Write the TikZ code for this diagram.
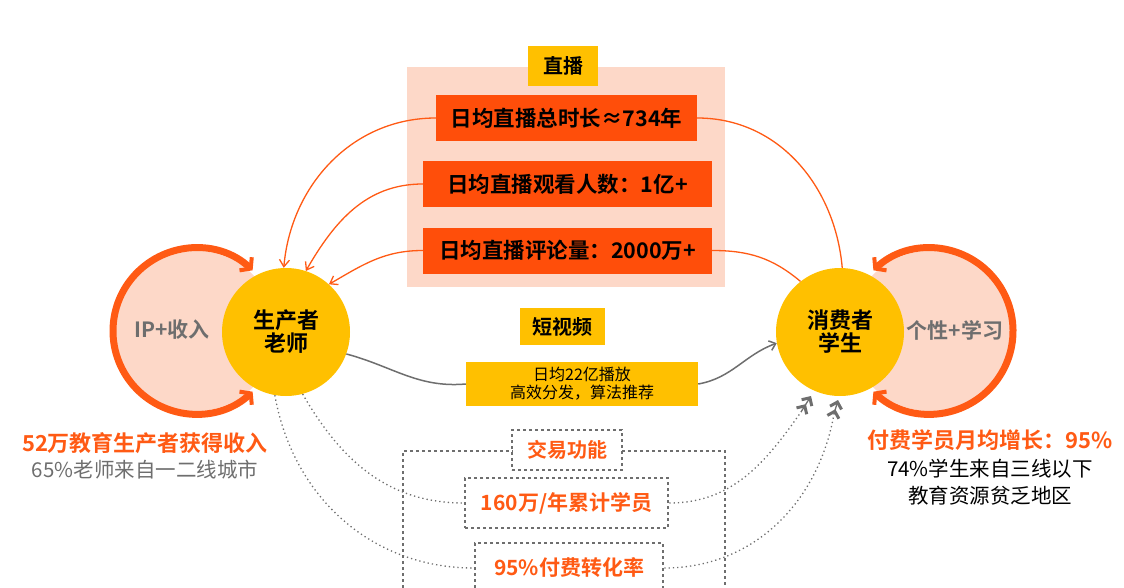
\documentclass[tikz,border=0pt]{standalone}
\usepackage{fontspec}
\setmainfont{Noto Sans CJK SC}
\newfontfamily\cjkb{Noto Sans CJK SC Bold}
\usetikzlibrary{arrows.meta}
\definecolor{org}{HTML}{FF5A14}
\definecolor{redb}{HTML}{FF4E0A}
\definecolor{yel}{HTML}{FFC000}
\definecolor{peach}{HTML}{FDD8C8}
\definecolor{gr}{HTML}{6E6E6E}
\tikzset{
 redbox/.style={fill=redb,minimum height=46pt,inner sep=0pt,font=\cjkb\fontsize{21.5}{22}\selectfont,text=black},
 yelbox/.style={fill=yel,inner sep=0pt,font=\cjkb\fontsize{20}{20}\selectfont,text=black},
 thinarr/.style={draw=org,line width=1.3pt,-{Straight Barb[length=7pt,width=10pt,line width=1.3pt]}},
 thin/.style={draw=org,line width=1.3pt},
 dotbox/.style={draw=gr,line width=2.5pt,dash pattern=on 3pt off 3pt,inner sep=0pt},
 dotl/.style={draw=gr,line width=1.3pt,dash pattern=on 1.3pt off 3pt},
 chev/.style={draw=gr,line width=1.3pt,-{Straight Barb[length=6pt,width=12pt,line width=3pt]Straight Barb[length=6pt,width=12pt,line width=3pt]}},
 ring/.style={draw=org,line width=7pt,{Straight Barb[length=7pt,width=18pt,line width=4pt]}-{Straight Barb[length=7pt,width=18pt,line width=4pt]}},
 yc/.style={circle,fill=yel,minimum size=128pt,inner sep=0pt,align=center,font=\cjkb\fontsize{22}{23}\selectfont},
 ot/.style={text=org,font=\cjkb\fontsize{20}{20}\selectfont},
}
\begin{document}
\begin{tikzpicture}[x=1pt,y=-1pt]
\useasboundingbox (0,0) rectangle (1124,588);
% rings
\fill[peach] (196,331) circle (80);
\fill[peach] (930,331) circle (80);
\draw[ring] (252.6,270.3) arc[start angle=-47,end angle=-313,radius=83];
\draw[ring] (873.4,270.3) arc[start angle=-133,end angle=133,radius=83];
% top panel
\fill[peach] (407,67) rectangle (725,287);
\node[yelbox,minimum width=70pt,minimum height=40pt] (zb) at (563,66) {直播};
\node[redbox,minimum width=261pt] (b1) at (566.5,118) {日均直播总时长≈734年};
\node[redbox,minimum width=289pt] (b2) at (567.5,184) {日均直播观看人数：1亿+};
\node[redbox,minimum width=289pt] (b3) at (567.5,250.5) {日均直播评论量：2000万+};
% circles
\node[yc] (L) at (286,332) {生产者\\老师};
\node[yc] (R) at (840,332) {消费者\\学生};
\node[text=gr,font=\cjkb\fontsize{21}{22}\selectfont] (ip) at (172,330) {IP+收入};
\node[text=gr,font=\cjkb\fontsize{21}{22}\selectfont] (gx) at (955,330) {个性+学习};
% short video
\node[yelbox,minimum width=85pt,minimum height=37pt] (sv) at (562.5,326.5) {短视频};
\node[yelbox,minimum width=232pt,minimum height=44pt,align=center,font=\fontsize{16}{18}\selectfont] (sb) at (582,384) {日均22亿播放\\高效分发，算法推荐};
\draw[gr,line width=1.5pt] (L.-20) to[out=-15,in=185] (sb.west);
\draw[gr,line width=1.5pt,-{Straight Barb[length=6pt,width=10pt,line width=1.5pt]}] (sb.east) to[out=10,in=200] (R.190);
% thin orange arrows
\draw[thinarr] (b1.west) to[out=180,in=85] (L.92);
\draw[thinarr] (b2.west) to[out=180,in=60] (L.72);
\draw[thinarr] (b3.west) to[out=180,in=30] (L.48);
\draw[thin] (b1.east) to[out=0,in=95] (R.88);
\draw[thin] (b3.east) to[out=0,in=140] (R.128);
% dotted boxes
\draw[dotbox] (403,600) -- (403,451) -- (513,451);
\draw[dotbox] (622,451) -- (725,451) -- (725,600);
\node[dotbox,minimum width=110pt,minimum height=40pt,ot] (jy) at (567,450) {交易功能};
\node[dotbox,minimum width=203pt,minimum height=50pt,ot,font=\cjkb\fontsize{21}{22}\selectfont] (c1) at (566.5,503) {160万/年累计学员};
\node[dotbox,minimum width=188pt,minimum height=50pt,ot,font=\cjkb\fontsize{21}{22}\selectfont] (c2) at (569,568) {95\%付费转化率};
% dotted connectors
\coordinate (e1) at (811,396);
\coordinate (e2) at (838,400);
\draw[dotl] (L.-100) to[out=-80,in=180] (c2.west);
\draw[dotl] (L.-75) to[out=-60,in=180] (c1.west);
\draw[dotl] (c1.east) to[out=0,in=-125] (801,412);
\draw[dotl] (c2.east) to[out=0,in=-100] (834,414);
\draw[chev] (801,412) -- (e1);
\draw[chev] (834,414) -- (e2);
% side texts
\node[ot,font=\cjkb\fontsize{22}{22}\selectfont] (t1) at (145,443) {52万教育生产者获得收入};
\node[text=gr,font=\fontsize{20.5}{20}\selectfont] (t2) at (145,470) {65\%老师来自一二线城市};
\node[ot,font=\cjkb\fontsize{22}{22}\selectfont] (t3) at (990,440) {付费学员月均增长：95\%};
\node[font=\fontsize{20.5}{27}\selectfont,align=center] (t4) at (990,482) {74\%学生来自三线以下\\教育资源贫乏地区};
\end{tikzpicture}
\end{document}
